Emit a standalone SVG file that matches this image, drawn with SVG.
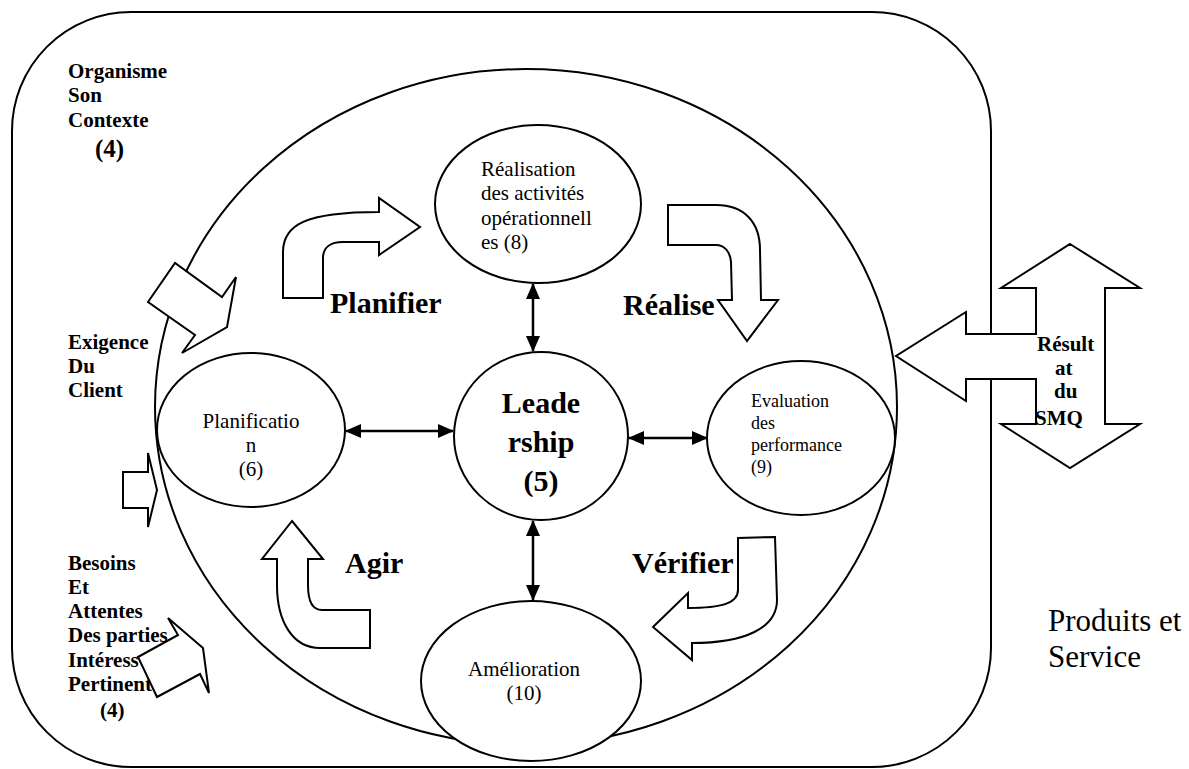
<svg xmlns="http://www.w3.org/2000/svg" width="1189" height="769" viewBox="0 0 1189 769">
<style>
  .ln{fill:none;stroke:#000;stroke-width:2}
  .wh{fill:#fff;stroke:#000;stroke-width:2;stroke-linejoin:miter}
  .con{stroke:#000;stroke-width:2.5;fill:none}
  .t{font-family:"Liberation Serif","Times New Roman",serif;fill:#000}
  .b{font-weight:bold}
  .s21{font-size:21px}
  .s18{font-size:18px}
  .s30{font-size:30px}
</style>
<defs>
  <marker id="ah" markerUnits="userSpaceOnUse" markerWidth="16" markerHeight="14" refX="15" refY="7" orient="auto-start-reverse" viewBox="0 0 16 14">
    <path d="M0,0 L16,7 L0,14 Z" fill="#000"/>
  </marker>
</defs>
<rect width="1189" height="769" fill="#fff"/>

<g id="frame">
  <rect class="ln" x="12" y="12" width="979" height="755" rx="119" ry="119"/>
  <ellipse class="ln" cx="526" cy="407" rx="371" ry="338"/>
</g>

<g id="realisation">
  <ellipse class="wh" cx="538" cy="204" rx="103" ry="79"/>
  <text class="t s21" x="481" y="176">Réalisation</text>
  <text class="t s21" x="481" y="200">des activités</text>
  <text class="t s21" x="481" y="225">opérationnell</text>
  <text class="t s21" x="481" y="249">es (8)</text>
</g>

<g id="planification">
  <ellipse class="wh" cx="251" cy="430" rx="94" ry="77"/>
  <text class="t s21" x="251" y="428" text-anchor="middle">Planificatio</text>
  <text class="t s21" x="251" y="452" text-anchor="middle">n</text>
  <text class="t s21" x="251" y="476" text-anchor="middle">(6)</text>
</g>

<g id="leadership">
  <ellipse class="wh" cx="541" cy="436" rx="87" ry="84"/>
  <text class="t b s30" x="541" y="413" text-anchor="middle">Leade</text>
  <text class="t b s30" x="541" y="452" text-anchor="middle">rship</text>
  <text class="t b s30" x="541" y="491" text-anchor="middle">(5)</text>
</g>

<g id="evaluation">
  <ellipse class="wh" cx="801" cy="438" rx="94" ry="77"/>
  <text class="t s18" x="751" y="407">Evaluation</text>
  <text class="t s18" x="751" y="429">des</text>
  <text class="t s18" x="751" y="451">performance</text>
  <text class="t s18" x="751" y="473">(9)</text>
</g>

<g id="amelioration">
  <ellipse class="wh" cx="531" cy="681" rx="110" ry="80"/>
  <text class="t s21" x="524" y="676" text-anchor="middle">Amélioration</text>
  <text class="t s21" x="524" y="700" text-anchor="middle">(10)</text>
</g>

<g id="connectors">
  <line class="con" x1="533" y1="284" x2="533" y2="351" marker-start="url(#ah)" marker-end="url(#ah)"/>
  <line class="con" x1="346" y1="431" x2="453" y2="431" marker-start="url(#ah)" marker-end="url(#ah)"/>
  <line class="con" x1="629" y1="438" x2="707" y2="438" marker-start="url(#ah)" marker-end="url(#ah)"/>
  <line class="con" x1="533" y1="521" x2="533" y2="600" marker-start="url(#ah)" marker-end="url(#ah)"/>
</g>

<g id="labels">
  <text class="t b s21" x="68" y="78">Organisme</text>
  <text class="t b s21" x="68" y="102">Son</text>
  <text class="t b s21" x="68" y="127">Contexte</text>
  <text class="t b" style="font-size:25px" x="95" y="157">(4)</text>

  <text class="t b s21" x="68" y="349">Exigence</text>
  <text class="t b s21" x="68" y="373">Du</text>
  <text class="t b s21" x="68" y="397">Client</text>

  <text class="t b s21" x="68" y="570">Besoins</text>
  <text class="t b s21" x="68" y="594">Et</text>
  <text class="t b s21" x="68" y="618">Attentes</text>
  <text class="t b s21" x="68" y="642">Des parties</text>
  <text class="t b s21" x="68" y="667">Intéress</text>
  <text class="t b s21" x="68" y="691">Pertinent</text>
  <text class="t b s21" x="100" y="717">(4)</text>

  <text class="t b s30" x="330" y="313">Planifier</text>
  <text class="t b s30" x="623" y="315">Réalise</text>
  <text class="t b s30" x="345" y="573">Agir</text>
  <text class="t b s30" x="632" y="573">Vérifier</text>

  <text class="t" style="font-size:31px" x="1048" y="631">Produits et</text>
  <text class="t" style="font-size:31px" x="1048" y="667">Service</text>
</g>

<g id="block-arrows">
  <path id="arrow-planifier" class="wh" d="M283,298 L283,252 C283,225 305,212 379,212 L379,198 L420,227 L379,255 L379,242 L343,242 C330,242 323,248 323,258 L323,298 Z"/>
  <path id="arrow-realiser" class="wh" d="M668,205 L716,205 C744,205 760,222 760,250 L761,300 L778,300 L747,341 L718,300 L732,300 L731,262 C730,251 724,245 716,245 L668,245 Z"/>
  <path id="arrow-verifier" class="wh" d="M738,538 L775,537 L777,600 C777,628 745,643 692,643 L692,660 L653,627 L688,593 L688,608 C722,608 738,603 738,590 Z"/>
  <path id="arrow-agir" class="wh" d="M292,521 L323,559 L308,559 L308,585 C308,602 313,610 322,610 L370,610 L370,648 L320,648 C293,648 277,622 277,585 L277,559 L262,559 Z"/>
  <polygon id="arrow-organisme" class="wh" points="148,302 175,263 222,297 236,277 227,327 182,353 195,335"/>
  <polygon id="arrow-exigence" class="wh" points="123,472 148,472 148,453 157,490 148,527 148,508 123,508"/>
  <polygon id="arrow-besoins" class="wh" points="138,657 178,635 168,618 203,648 209,693 200,674 157,697"/>
</g>

<g id="resultat">
  <polygon class="wh" points="1070,244 1140,288 1105,288 1105,424 1140,424 1070,468 1001,424 1036,424 1036,379 966,379 966,401 896,356 966,312 966,334 1036,334 1036,288 1001,288"/>
  <text class="t b s21" x="1037" y="351">Résult</text>
  <text class="t b s21" x="1055" y="375">at</text>
  <text class="t b s21" x="1054" y="398">du</text>
  <text class="t b s21" x="1035" y="425">SMQ</text>
</g>
</svg>
